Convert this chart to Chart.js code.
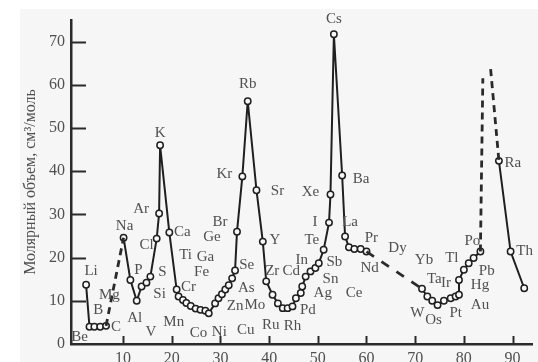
<!DOCTYPE html>
<html>
<head>
<meta charset="utf-8">
<script src="https://cdn.jsdelivr.net/npm/chart.js@4.4.0/dist/chart.umd.min.js"></script>
<style>
  html, body { margin: 0; padding: 0; background: #fff; }
  canvas { display: block; }
</style>
</head>
<body>
<canvas id="grafica" width="538" height="362"></canvas>
<script>
// ==========================================
// DATOS (número atómico, volumen molar cm3/mol)
// ==========================================
const simbolosP2 = ['Li', 'Be', 'B', null, 'C'];
const zP2 = [2.4, 3.1, 4.1, 5.3, 6.5];
const vP2 = [13.7, 4.0, 4.0, 4.0, 4.2];

const simbolosMedio = ['Na','Mg','Al','Si','P','S','Cl','Ar','K','Ca',
  'Sc','Ti','V','Cr','Mn','Fe','Co','Ni','Cu','Zn',
  'Ga','Ge','As','Se',null,null,'Br','Kr','Rb','Sr',
  'Y','Zr',null,'Mo','Tc','Ru','Rh','Pd','Ag','Cd',
  'In','Sn','Sb','Te',null,'I','Xe','Cs','Ba','La',
  'Ce','Pr','Nd','Pm'];
const zMedio = [10.1,11.5,12.8,13.8,14.8,15.6,16.9,17.4,17.6,19.5,
  21.0,21.4,22.3,23.0,23.9,24.9,25.9,26.9,27.6,28.9,
  29.6,30.3,31.0,31.7,32.4,33.0,33.4,34.5,35.6,37.4,
  38.7,39.4,40.7,41.8,42.8,43.8,44.8,45.5,46.5,46.8,
  47.5,48.5,49.5,50.2,51.2,52.3,52.6,53.3,55.0,55.6,
  56.4,57.5,58.8,60.0];
const vMedio = [24.6,14.8,10.0,13.3,14.2,15.6,24.4,30.2,46.0,25.8,
  12.6,11.0,10.2,9.5,8.8,8.2,7.9,7.7,7.1,9.4,
  10.6,11.5,12.6,13.6,15.2,17.0,26.0,38.8,56.2,35.6,
  23.7,14.5,11.4,9.4,8.3,8.3,8.7,10.6,11.8,13.3,
  15.6,16.8,17.6,18.7,21.8,28.1,34.6,71.7,39.0,24.9,
  22.4,22.0,22.0,21.4];

const simbolosPesados = ['Hf','Ta','W','Os','Ir','Pt',null,'Au','Hg','Tl','Pb','Bi','Po'];
const zPesados = [71.4,72.5,73.5,74.6,75.9,77.3,78.3,79.0,79.0,80.0,81.0,82.0,83.4];
const vPesados = [12.8,11.0,10.0,9.0,10.0,10.6,11.0,11.4,14.8,17.2,18.7,19.9,21.4];

const simbolosAct = ['Ra', 'Th', 'U'];
const zAct = [87.2, 89.6, 92.4];
const vAct = [42.4, 21.4, 12.9];

// picos extrapolados (líneas discontinuas hacia Fr)
const zPico = [83.9, 85.5];
const vPico = [61.5, 63.6];

const ticksX = [10, 20, 30, 40, 50, 60, 70, 80, 90];
const tituloY = 'Молярный объем, см³/моль';

// ==========================================
// POSICIÓN DE LAS ETIQUETAS (desplazamiento en px)
// ==========================================
const desplEtiquetas = {
  Li:[5,-14], Be:[-10,10], B:[4,-17], C:[10,1],
  Na:[1,-12], Mg:[-21,15], Al:[-2,17], Si:[18,8], P:[-8,-13], S:[12,-5],
  Cl:[-10,6], Ar:[-18,-4], K:[0,-12], Ca:[13,0],
  Ti:[7,-41], V:[-32,32], Cr:[2,-16], Mn:[-17,16], Fe:[6,-37], Co:[-2,23],
  Ni:[14,21], Cu:[37,17], Zn:[20,3], Ga:[-13,-41], Ge:[-10,-57], As:[21,-2],
  Se:[18,-20], Br:[-17,-10], Kr:[-18,-2], Rb:[0,-17], Sr:[21,1], Y:[12,-2],
  Zr:[6,-10], Mo:[-23,2], Ru:[-17,17], Rh:[0,20], Pd:[12,12], Ag:[22,0],
  Cd:[-11,-15], In:[-4,-17], Sn:[20,8], Sb:[19,-6], Te:[-7,-23], I:[-14,-1],
  Xe:[-20,-2], Cs:[0,-15], Ba:[19,4], La:[5,-14], Ce:[5,46], Pr:[17,-11], Nd:[9,19],
  Ta:[7,-17], W:[-15,12], Os:[-4,15], Ir:[2,-18], Pt:[5,15], Au:[21,10], Hg:[21,5],
  Tl:[-12,-12], Pb:[18,8], Po:[-8,-10], Ra:[14,2], Th:[14,0]
};
// etiquetas sin punto propio, ancladas a otro punto
const etiquetasExtra = [
  { texto: 'Dy', ancla: 'Pm', dx: 31, dy: -3 },
  { texto: 'Yb', ancla: 'Hf', dx: 2, dy: -29 }
];

function puntos(zs, vs) {
  return zs.map((z, i) => ({ x: z, y: vs[i] }));
}

const COLOR_LINEA = '#1f1f1f';
const COLOR_TEXTO = '#505050';
const FUENTE = "'Liberation Serif', 'DejaVu Serif', serif";

const estiloSolido = {
  borderColor: COLOR_LINEA,
  borderWidth: 2,
  pointRadius: 3.2,
  pointBackgroundColor: '#f8f8f8',
  pointBorderColor: COLOR_LINEA,
  pointBorderWidth: 1.5,
  tension: 0,
  fill: false
};
const estiloDiscontinuo = {
  borderColor: '#2a2a2a',
  borderWidth: 2.8,
  borderDash: [7, 5],
  pointRadius: 0,
  tension: 0,
  fill: false
};

const ultimo = a => a[a.length - 1];

const datasets = [
  // conexiones discontinuas (se dibujan debajo)
  Object.assign({ data: [{x: ultimo(zP2), y: ultimo(vP2)}, {x: zMedio[0], y: vMedio[0]}] }, estiloDiscontinuo),
  Object.assign({ data: [{x: ultimo(zMedio), y: ultimo(vMedio)}, {x: zPesados[0], y: vPesados[0]}] }, estiloDiscontinuo, { borderDash: [9, 9] }),
  Object.assign({ data: [{x: ultimo(zPesados), y: ultimo(vPesados)}, {x: zPico[0], y: vPico[0]}] }, estiloDiscontinuo),
  Object.assign({ data: [{x: zPico[1], y: vPico[1]}, {x: zAct[0], y: vAct[0]}] }, estiloDiscontinuo),
  // tramos continuos
  Object.assign({ data: puntos(zP2, vP2), simbolos: simbolosP2 }, estiloSolido),
  Object.assign({ data: puntos(zMedio, vMedio), simbolos: simbolosMedio }, estiloSolido),
  Object.assign({ data: puntos(zPesados, vPesados), simbolos: simbolosPesados }, estiloSolido),
  Object.assign({ data: puntos(zAct, vAct), simbolos: simbolosAct }, estiloSolido)
];

// ==========================================
// PLUGINS
// ==========================================
const fondo = {
  id: 'fondo',
  beforeDraw(chart) {
    const ctx = chart.ctx;
    ctx.save();
    ctx.fillStyle = '#ffffff';
    ctx.fillRect(0, 0, chart.width, chart.height);
    ctx.fillStyle = '#f6f6f6';
    ctx.fillRect(20, 9, chart.width - 20, chart.height - 9);
    ctx.restore();
  }
};

// marcas de los ejes hacia dentro
const marcas = {
  id: 'marcas',
  afterDraw(chart) {
    const ctx = chart.ctx;
    const { x, y } = chart.scales;
    const area = chart.chartArea;
    ctx.save();
    ctx.strokeStyle = '#2a2a2a';
    ctx.lineWidth = 2;
    ctx.beginPath();
    y.ticks.forEach(t => {
      if (t.value <= 0 || t.value >= y.max) return;
      const py = Math.round(y.getPixelForValue(t.value)) + 0.5;
      const largo = t.value % 10 === 0 ? 15 : 8;
      ctx.moveTo(area.left, py);
      ctx.lineTo(area.left + largo, py);
    });
    ticksX.forEach(v => {
      const px = Math.round(x.getPixelForValue(v)) + 0.5;
      ctx.moveTo(px, area.bottom);
      ctx.lineTo(px, area.bottom - 8);
    });
    ctx.stroke();
    ctx.restore();
  }
};

const etiquetas = {
  id: 'etiquetas',
  afterDatasetsDraw(chart) {
    const ctx = chart.ctx;
    const { x, y } = chart.scales;
    const anclas = {};
    ctx.save();
    ctx.font = '15px ' + FUENTE;
    ctx.fillStyle = COLOR_TEXTO;
    ctx.textAlign = 'center';
    ctx.textBaseline = 'middle';
    chart.data.datasets.forEach(ds => {
      if (!ds.simbolos) return;
      ds.data.forEach((p, i) => {
        const s = ds.simbolos[i];
        if (!s) return;
        const px = x.getPixelForValue(p.x);
        const py = y.getPixelForValue(p.y);
        anclas[s] = [px, py];
        const d = desplEtiquetas[s];
        if (d) ctx.fillText(s, px + d[0], py + d[1]);
      });
    });
    etiquetasExtra.forEach(e => {
      const a = anclas[e.ancla];
      if (a) ctx.fillText(e.texto, a[0] + e.dx, a[1] + e.dy);
    });
    ctx.restore();
  }
};

// ==========================================
// GRÁFICA
// ==========================================
new Chart(document.getElementById('grafica'), {
  type: 'line',
  data: { datasets: datasets },
  plugins: [fondo, marcas, etiquetas],
  options: {
    responsive: false,
    animation: false,
    devicePixelRatio: 1,
    layout: { padding: { top: 20, right: 0, bottom: 0, left: 0 } },
    plugins: {
      legend: { display: false },
      tooltip: { enabled: false }
    },
    scales: {
      x: {
        type: 'linear',
        min: -0.7,
        max: 94.1,
        grid: { display: false, drawTicks: false },
        border: { display: true, color: '#2a2a2a', width: 2.5 },
        ticks: {
          stepSize: 10,
          includeBounds: false,
          autoSkip: false,
          maxRotation: 0,
          padding: 5,
          color: COLOR_TEXTO,
          font: { family: FUENTE, size: 16 },
          callback: v => ticksX.includes(v) ? String(v) : ''
        },
        afterFit: scale => { scale.height = 18; }
      },
      y: {
        min: 0,
        max: 75,
        grid: { display: false, drawTicks: false },
        border: { display: true, color: '#2a2a2a', width: 2.5 },
        ticks: {
          stepSize: 5,
          padding: 6,
          color: COLOR_TEXTO,
          font: { family: FUENTE, size: 16 },
          callback: v => (v % 10 === 0 && v <= 70) ? String(v) : ''
        },
        title: {
          display: true,
          text: tituloY,
          color: COLOR_TEXTO,
          font: { family: FUENTE, size: 16 },
          padding: { top: 21, bottom: 0 }
        },
        afterFit: scale => { scale.width = 71; }
      }
    }
  }
});
</script>
</body>
</html>
